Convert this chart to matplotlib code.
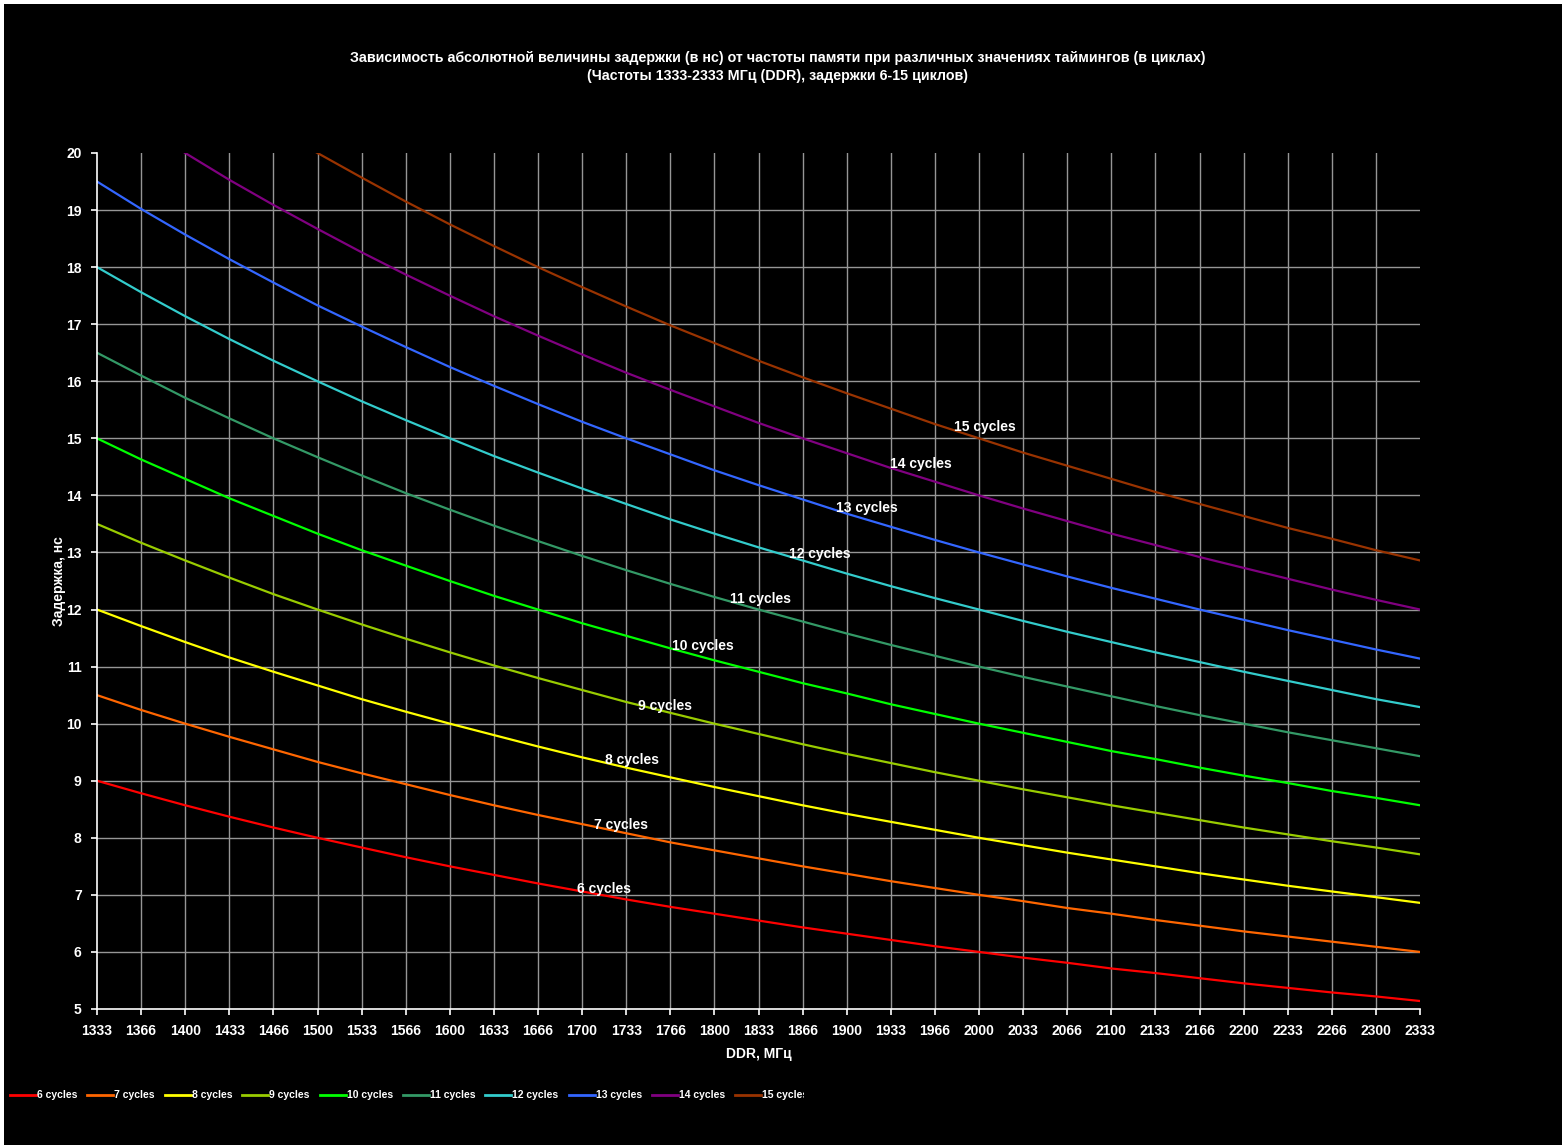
import matplotlib
matplotlib.use("Agg")
import matplotlib.pyplot as plt
from matplotlib.patches import Rectangle
from matplotlib.lines import Line2D

plt.rcParams['font.family'] = ['Liberation Sans', 'DejaVu Sans']

freq = [1333.33, 1366.67, 1400.00, 1433.33, 1466.67, 1500.00, 1533.33, 1566.67,
        1600.00, 1633.33, 1666.67, 1700.00, 1733.33, 1766.67, 1800.00, 1833.33,
        1866.67, 1900.00, 1933.33, 1966.67, 2000.00, 2033.33, 2066.67, 2100.00,
        2133.33, 2166.67, 2200.00, 2233.33, 2266.67, 2300.00, 2333.33]
tick_labels = ["1333", "1366", "1400", "1433", "1466", "1500", "1533", "1566",
               "1600", "1633", "1666", "1700", "1733", "1766", "1800", "1833",
               "1866", "1900", "1933", "1966", "2000", "2033", "2066", "2100",
               "2133", "2166", "2200", "2233", "2266", "2300", "2333"]

c6 = [9.00, 8.78, 8.57, 8.37, 8.18, 8.00, 7.83, 7.66, 7.50, 7.35, 7.20, 7.06, 6.92, 6.79, 6.67, 6.55,
      6.43, 6.32, 6.21, 6.10, 6.00, 5.90, 5.81, 5.71, 5.63, 5.54, 5.45, 5.37, 5.29, 5.22, 5.14]
c7 = [10.50, 10.24, 10.00, 9.77, 9.55, 9.33, 9.13, 8.94, 8.75, 8.57, 8.40, 8.24, 8.08, 7.92, 7.78, 7.64,
      7.50, 7.37, 7.24, 7.12, 7.00, 6.89, 6.77, 6.67, 6.56, 6.46, 6.36, 6.27, 6.18, 6.09, 6.00]
c8 = [12.00, 11.71, 11.43, 11.16, 10.91, 10.67, 10.43, 10.21, 10.00, 9.80, 9.60, 9.41, 9.23, 9.06, 8.89, 8.73,
      8.57, 8.42, 8.28, 8.14, 8.00, 7.87, 7.74, 7.62, 7.50, 7.38, 7.27, 7.16, 7.06, 6.96, 6.86]
c9 = [13.50, 13.17, 12.86, 12.56, 12.27, 12.00, 11.74, 11.49, 11.25, 11.02, 10.80, 10.59, 10.38, 10.19, 10.00, 9.82,
      9.64, 9.47, 9.31, 9.15, 9.00, 8.85, 8.71, 8.57, 8.44, 8.31, 8.18, 8.06, 7.94, 7.83, 7.71]
c10 = [15.00, 14.63, 14.29, 13.95, 13.64, 13.33, 13.04, 12.77, 12.50, 12.24, 12.00, 11.76, 11.54, 11.32, 11.11, 10.91,
       10.71, 10.53, 10.34, 10.17, 10.00, 9.84, 9.68, 9.52, 9.38, 9.23, 9.09, 8.96, 8.82, 8.70, 8.57]
c11 = [16.50, 16.10, 15.71, 15.35, 15.00, 14.67, 14.35, 14.04, 13.75, 13.47, 13.20, 12.94, 12.69, 12.45, 12.22, 12.00,
       11.79, 11.58, 11.38, 11.19, 11.00, 10.82, 10.65, 10.48, 10.31, 10.15, 10.00, 9.85, 9.71, 9.57, 9.43]
c12 = [18.00, 17.56, 17.14, 16.74, 16.36, 16.00, 15.65, 15.32, 15.00, 14.69, 14.40, 14.12, 13.85, 13.58, 13.33, 13.09,
       12.86, 12.63, 12.41, 12.20, 12.00, 11.80, 11.61, 11.43, 11.25, 11.08, 10.91, 10.75, 10.59, 10.43, 10.29]
c13 = [19.50, 19.02, 18.57, 18.14, 17.73, 17.33, 16.96, 16.60, 16.25, 15.92, 15.60, 15.29, 15.00, 14.72, 14.44, 14.18,
       13.93, 13.68, 13.45, 13.22, 13.00, 12.79, 12.58, 12.38, 12.19, 12.00, 11.82, 11.64, 11.47, 11.30, 11.14]
c14 = [21.00, 20.49, 20.00, 19.53, 19.09, 18.67, 18.26, 17.87, 17.50, 17.14, 16.80, 16.47, 16.15, 15.85, 15.56, 15.27,
       15.00, 14.74, 14.48, 14.24, 14.00, 13.77, 13.55, 13.33, 13.13, 12.92, 12.73, 12.54, 12.35, 12.17, 12.00]
c15 = [22.50, 21.95, 21.43, 20.93, 20.45, 20.00, 19.57, 19.15, 18.75, 18.37, 18.00, 17.65, 17.31, 16.98, 16.67, 16.36,
       16.07, 15.79, 15.52, 15.25, 15.00, 14.75, 14.52, 14.29, 14.06, 13.85, 13.64, 13.43, 13.24, 13.04, 12.86]

series_names = ["6 cycles", "7 cycles", "8 cycles", "9 cycles", "10 cycles",
                "11 cycles", "12 cycles", "13 cycles", "14 cycles", "15 cycles"]
series_values = [c6, c7, c8, c9, c10, c11, c12, c13, c14, c15]
colors = ["#FF0000", "#FF6600", "#FFFF00", "#99CC00", "#00FF00",
          "#339966", "#33CCCC", "#3366FF", "#800080", "#993300"]

# in-chart label anchor points (data coords)
label_x = [1716.6, 1729.4, 1737.7, 1762.7, 1791.4, 1835.2, 1879.8, 1915.3, 1956.1, 2004.5]
label_y = [7.10, 8.22, 9.36, 10.31, 11.36, 12.18, 12.97, 13.78, 14.55, 15.20]

W, H = 1562, 1145
fig = plt.figure(figsize=(W / 100, H / 100), dpi=100, facecolor="white")
fig.patches.append(Rectangle((4 / W, 0), 1 - 4 / W, 1 - 4 / H, transform=fig.transFigure,
                             facecolor="black", edgecolor="none", zorder=-10))

ax = fig.add_axes([97 / W, 1 - 1009 / H, (1420 - 97) / W, (1009 - 153) / H])
ax.set_facecolor("black")

for name, vals, col in zip(series_names, series_values, colors):
    ax.plot(freq, vals, color=col, lw=1.6, label=name, zorder=3)

ax.set_xlim(freq[0], freq[-1])
ax.set_ylim(5, 20)
ax.set_xticks(freq)
ax.set_xticklabels(tick_labels)
ax.set_yticks(range(5, 21))

# gridlines (no line at the top or the right edge)
for x in freq[1:-1]:
    ax.axvline(x, color="#969696", lw=1.0, zorder=1)
for y in range(6, 20):
    ax.axhline(y, color="#969696", lw=1.0, zorder=1)

for s in ["top", "right"]:
    ax.spines[s].set_visible(False)
for s in ["left", "bottom"]:
    ax.spines[s].set_color("white")
    ax.spines[s].set_linewidth(1.2)
    ax.spines[s].set_zorder(4)

ax.tick_params(axis="both", colors="white", length=4, width=1.2, direction="out",
               labelsize=10)
ax.tick_params(axis="x", pad=7)
ax.tick_params(axis="y", pad=7)
for lbl in ax.get_xticklabels() + ax.get_yticklabels():
    lbl.set_fontweight("bold")
    lbl.set_color("white")

for name, lx, ly in zip(series_names, label_x, label_y):
    ax.text(lx, ly, name, color="white", fontsize=10, fontweight="bold",
            ha="center", va="center", zorder=5)

ax.set_xlabel("DDR, МГц", color="white", fontsize=10, fontweight="bold", labelpad=6)
ax.set_ylabel("Задержка, нс", color="white", fontsize=10, fontweight="bold", labelpad=0)

fig.text(777.5 / W, 1 - 58 / H,
         "Зависимость абсолютной величины задержки (в нс) от частоты памяти при различных значениях таймингов (в циклах)",
         color="white", fontsize=10.25, fontweight="bold", ha="center", va="center")
fig.text(777.5 / W, 1 - 76 / H,
         "(Частоты 1333-2333 МГц (DDR), задержки 6-15 циклов)",
         color="white", fontsize=10.25, fontweight="bold", ha="center", va="center")

# legend row, clipped at the right like the original
clip = Rectangle((0, 0), 804 / W, 1, transform=fig.transFigure)
leg_y = 1 - 1095 / H
fig.canvas.draw()
renderer = fig.canvas.get_renderer()
xpix = 10
for name, col in zip(series_names, colors):
    ln = Line2D([xpix / W, (xpix + 26) / W], [leg_y, leg_y], transform=fig.transFigure,
                color=col, lw=2)
    fig.lines.append(ln)
    t = fig.text((xpix + 27) / W, leg_y, name, color="white", fontsize=7.5,
                 fontweight="bold", ha="left", va="center")
    t.set_clip_path(clip)
    bb = t.get_window_extent(renderer)
    xpix = bb.x1 + 10

fig.savefig("out.png", dpi=100, facecolor=fig.get_facecolor())
